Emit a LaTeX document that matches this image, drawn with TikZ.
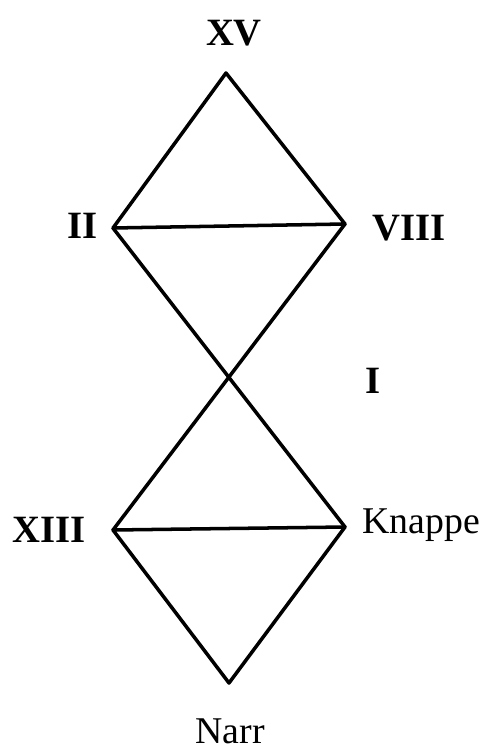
\documentclass[tikz,border=0pt]{standalone}
\usepackage{fontspec}
\setmainfont{Liberation Serif}
\usetikzlibrary{positioning}

\begin{document}
\begin{tikzpicture}[
    x=0.02cm,
    y=-0.02cm,
%
    edge/.style={
        line width=2pt,
        line join=round,
        line cap=round
    },
%
    num/.style={
        font=\fontsize{22}{26}\selectfont\bfseries,
        inner sep=0pt
    },
%
    word/.style={
        font=\fontsize{21.5}{26}\selectfont,
        inner sep=0pt
    }
]
\useasboundingbox (0,0) rectangle (485,749);
%
% The corners of the two triangles meeting in one crossing point.
%
\coordinate (top) at (226,73);
\coordinate (ii) at (113,228);
\coordinate (viii) at (345,224);
\coordinate (xiii) at (113,530);
\coordinate (knappe) at (345,527);
\coordinate (bottom) at (229,683);
%
\draw[edge] (ii) -- (top) -- (viii) -- cycle;
\draw[edge] (ii) -- (knappe);
\draw[edge] (viii) -- (xiii);
\draw[edge] (xiii) -- (knappe) -- (bottom) -- cycle;
%
% Labels.
%
\node[num] (lxv) at (234,33) {XV};
\node[num] (lii) at (83,226) {II};
\node[num] (lviii) at (409,228) {VIII};
\node[num] (li) at (373,381) {I};
\node[num] (lxiii) at (49,530) {XIII};
\node[word, anchor=base west] (lknappe) at (362,533) {Knappe};
\node[word, anchor=base] (lnarr) at (230,743) {Narr};
%
\end{tikzpicture}
\end{document}
